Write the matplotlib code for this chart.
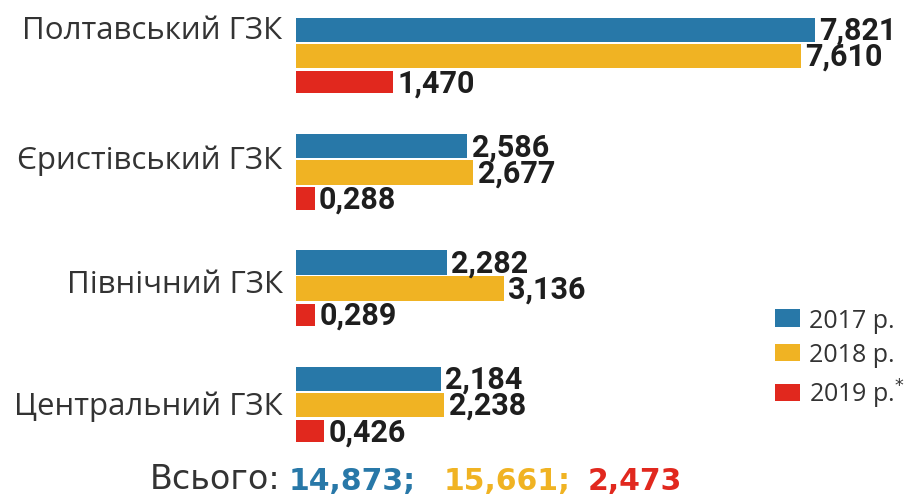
import matplotlib
matplotlib.use("Agg")
import matplotlib.pyplot as plt
from matplotlib.patches import Patch

# data (млн т)
plants = ["Полтавський ГЗК", "Єристівський ГЗК", "Північний ГЗК", "Центральний ГЗК"]
years = ["2017 р.", "2018 р.", "2019 р.$^{*}$"]
v2017 = [7.821, 2.586, 2.282, 2.184]
v2018 = [7.610, 2.677, 3.136, 2.238]
v2019 = [1.470, 0.288, 0.289, 0.426]

colors = ["#2878a8", "#f0b323", "#e1281e"]
label_dy = [-0.22, -0.11, -0.04, 0.01]


def fmt(v):
    return f"{v:.3f}".replace(".", ",")


fig = plt.figure(figsize=(9.13, 5.02), dpi=100)
ax = fig.add_axes([0.324, 0.0, 0.676, 1.0])

series = [v2017, v2018, v2019]
offsets = [-0.225, 0.0, 0.225]
heights = [0.21, 0.21, 0.19]
for vals, off, h, c in zip(series, offsets, heights, colors):
    ys = [i + off for i in range(len(plants))]
    ax.barh(ys, vals, height=h, color=c)
    for y, v in zip(ys, vals):
        ax.annotate(fmt(v), (v, y), xytext=(3, 0), textcoords="offset points",
                    ha="left", va="center", fontsize=22, fontweight="bold",
                    family="Roboto", color="#1e1e1e")

for i, name in enumerate(plants):
    ax.text(-0.2, i + label_dy[i], name, ha="right", va="center",
            fontsize=22.5, family="Open Sans", color="#333333")

ax.set_xlim(0, 9.3)
ax.set_ylim(3.826, -0.49)
ax.axis("off")

handles = [Patch(facecolor=c) for c in colors]
fig.legend(handles, years, loc="upper left", bbox_to_anchor=(0.83, 0.42),
           frameon=False, prop={"family": "Open Sans", "size": 18},
           handlelength=1.0, handleheight=0.7, handletextpad=0.35,
           labelspacing=0.38, labelcolor="#333333", borderpad=0.2)

# totals line
totals = [sum(v2017), sum(v2018), sum(v2019)]
t = fig.text(0.164, 0.025, "Всього:", fontsize=24, family="DejaVu Sans",
             color="#333333", va="baseline")
parts = [fmt(totals[0]) + ";", fmt(totals[1]) + ";", fmt(totals[2])]
gaps = [6, 20, 12]
prev = t
for p, c, g in zip(parts, colors, gaps):
    prev = ax.annotate(p, xy=(1, 0), xycoords=prev, xytext=(g, 0),
                       textcoords="offset points", va="bottom", ha="left",
                       fontsize=21.5, fontweight="bold", family="DejaVu Sans",
                       color=c)

fig.savefig("out.png", dpi=100)
